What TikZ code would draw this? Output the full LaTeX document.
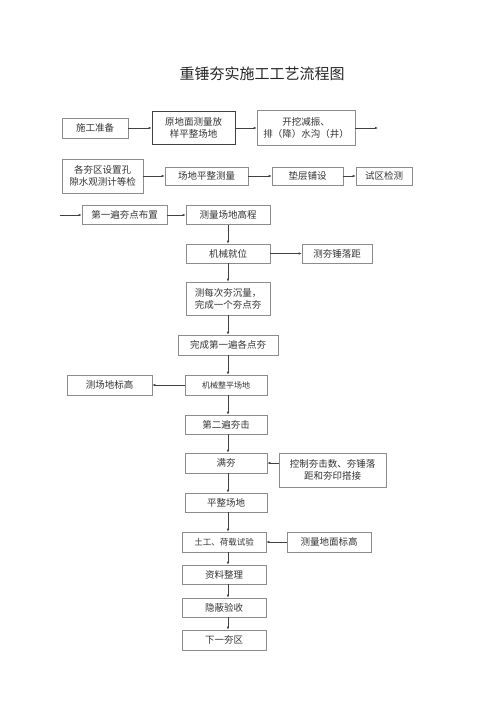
\documentclass[tikz,border=0pt]{standalone}
\usepackage{fontspec}
\setmainfont{Noto Sans CJK SC}
\usepackage{tikz}
\usetikzlibrary{arrows.meta}
\usetikzlibrary{calc}

\begin{document}
\begin{tikzpicture}[x=1pt, y=-1pt,
        node_style/.style={rectangle,draw=black!45,line width=0.6pt,text=black!80,font=\fontsize{9.5}{12}\selectfont,inner sep=1pt,align=center},
        key_node_style/.style={node_style,draw=black!75,line width=0.9pt},
        small_node_style/.style={node_style,font=\fontsize{8}{10}\selectfont},
        edge_style/.style={draw=black!75, line width=0.7pt,-{Latex[length=3pt,width=2.5pt]}}]

        \useasboundingbox (0,0) rectangle (500,707);

        \node [text=black!85,font=\fontsize{15}{18}\selectfont](t1) at (262,74) {重锤夯实施工工艺流程图};

        % first row
        \node [node_style,minimum width=66pt,minimum height=20pt](n1) at (95,128) {施工准备};

        \node [key_node_style,minimum width=83pt,minimum height=33pt](n2) at (193.5,128) {原地面测量放\\样平整场地};

        \node [node_style,minimum width=98pt,minimum height=35pt](n3) at (306,128) {开挖减振、\\排（降）水沟（井）};

        \coordinate (e1) at (378,128);

        % second row
        \node [node_style,minimum width=81pt,minimum height=34pt](n4) at (102.5,176) {各夯区设置孔\\隙水观测计等检};

        \node [node_style,minimum width=83pt,minimum height=18pt](n5) at (206.5,176) {场地平整测量};

        \node [node_style,minimum width=71pt,minimum height=18pt](n6) at (307.5,176) {垫层铺设};

        \node [node_style,minimum width=56pt,minimum height=18pt](n7) at (384,176) {试区检测};

        % third row and main column
        \coordinate (s1) at (60,215);

        \node [node_style,minimum width=85pt,minimum height=19pt](n8) at (124.5,215) {第一遍夯点布置};

        \node [node_style,minimum width=84pt,minimum height=19pt](n9) at (228,215) {测量场地高程};

        \node [node_style,minimum width=84pt,minimum height=19pt](n10) at (228,253.5) {机械就位};

        \node [node_style,minimum width=70pt,minimum height=19pt](n11) at (337,253.5) {测夯锤落距};

        \node [node_style,minimum width=84pt,minimum height=33pt](n12) at (228,298.5) {测每次夯沉量，\\完成一个夯点夯};

        \node [node_style,minimum width=100pt,minimum height=20pt](n13) at (228,345) {完成第一遍各点夯};

        \node [small_node_style,minimum width=82pt,minimum height=20pt](n14) at (226,385) {机械整平场地};

        \node [node_style,minimum width=85pt,minimum height=20pt](n15) at (109.5,385) {测场地标高};

        \node [node_style,minimum width=82pt,minimum height=19pt](n16) at (226,424.5) {第二遍夯击};

        \node [node_style,minimum width=82pt,minimum height=20pt](n17) at (226,463) {满夯};

        \node [node_style,minimum width=107pt,minimum height=34pt](n18) at (332.5,470) {控制夯击数、夯锤落\\距和夯印搭接};

        \node [node_style,minimum width=82pt,minimum height=19pt](n19) at (226,502.5) {平整场地};

        \node [small_node_style,font=\fontsize{8.5}{10}\selectfont,minimum width=84pt,minimum height=20pt](n20) at (224,542) {土工、荷载试验};

        \node [node_style,minimum width=84pt,minimum height=20pt](n21) at (329,542) {测量地面标高};

        \node [node_style,minimum width=84pt,minimum height=19pt](n22) at (224,574.5) {资料整理};

        \node [node_style,minimum width=84pt,minimum height=19pt](n23) at (224,607.5) {隐蔽验收};

        \node [node_style,minimum width=84pt,minimum height=20pt](n24) at (224,640) {下一夯区};

        \coordinate (c1) at (228,0);

        \draw (n1) edge [edge_style] (n2);

        \draw (n2) edge [edge_style] (n3);

        \draw (n3) edge [edge_style] (e1);

        \draw (n4) edge [edge_style] (n5);

        \draw (n5) edge [edge_style] (n6);

        \draw (n6) edge [edge_style] (n7);

        \draw (s1) edge [edge_style] (n8);

        \draw (n8) edge [edge_style] (n9);

        \draw (n9) edge [edge_style] (n10);

        \draw (n10) edge [edge_style] (n11);

        \draw (n10) edge [edge_style] (n12);

        \draw (n12) edge [edge_style] (n13);

        \draw (n13.south) edge [edge_style] (n14.north -| c1);

        \draw (n14) edge [edge_style] (n15);

        \draw (n14.south -| c1) edge [edge_style] (n16.north -| c1);

        \draw (n16.south -| c1) edge [edge_style] (n17.north -| c1);

        \draw (n18.west |- n17) edge [edge_style] (n17.east);

        \draw (n17.south -| c1) edge [edge_style] (n19.north -| c1);

        \draw (n19.south -| c1) edge [edge_style] (n20.north -| c1);

        \draw (n21) edge [edge_style] (n20);

        \draw (n20.south -| c1) edge [edge_style] (n22.north -| c1);

        \draw (n22.south -| c1) edge [edge_style] (n23.north -| c1);

        \draw (n23.south -| c1) edge [edge_style] (n24.north -| c1);

        \end{tikzpicture}
\end{document}
